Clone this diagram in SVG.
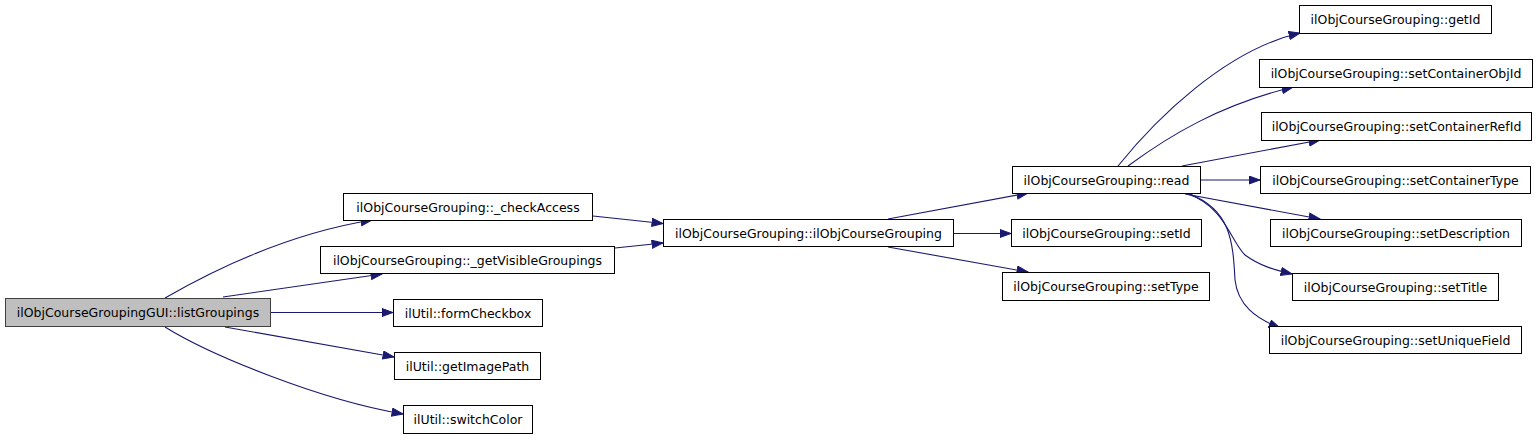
<svg xmlns="http://www.w3.org/2000/svg" width="1539" height="440" viewBox="0 0 1539 440">
<style>
.n rect{fill:#fff;stroke:#000;stroke-width:1}
.n.root rect{fill:#bfbfbf;stroke:#404040}
.n text{font-family:"DejaVu Sans","Liberation Sans",sans-serif;font-size:12.5px;text-anchor:middle;fill:#000}
.e path{fill:none;stroke:#191970;stroke-width:1.1;marker-end:url(#ah)}
</style>
<defs>
<marker id="ah" markerUnits="userSpaceOnUse" markerWidth="13" markerHeight="10" refX="11.5" refY="4.5" orient="auto">
<path d="M0.5,0.5 L11.5,4.5 L0.5,8.5 z" fill="#191970" stroke="#191970" stroke-width="1"/>
</marker>
</defs>
<rect width="1539" height="440" fill="#fff"/>
<g id="edges" class="e">
<path d="M165,298 C205,275 280,235 372,220"/>
<path d="M223,297 L382,274"/>
<path d="M271,312.5 L393,312.5"/>
<path d="M225,327 L394,357"/>
<path d="M165,327 C210,355 320,400 403,414"/>
<path d="M593,216 L663,223.5"/>
<path d="M615,248 L663,243"/>
<path d="M888,219 L1028,193"/>
<path d="M954,233.5 L1011,233.5"/>
<path d="M888,247 L1028,272"/>
<path d="M1118,166 C1155,120 1225,50 1300,33"/>
<path d="M1128,166 C1170,135 1220,105 1293,87"/>
<path d="M1182,166 L1320,140"/>
<path d="M1201,180 L1260,180"/>
<path d="M1185,194 L1320,219"/>
<path d="M1188,194 C1225,207 1230,240 1245,255 C1260,266 1275,270 1292,274"/>
<path d="M1190,194 C1230,210 1233,240 1235,280 C1238,305 1255,318 1280,328"/>
</g>
<g id="node-root" class="n root"><rect x="5.5" y="298.5" width="265" height="28"/><text x="138" y="317">ilObjCourseGroupingGUI::listGroupings</text></g>
<g id="node-checkAccess" class="n"><rect x="343.5" y="193.5" width="249" height="27"/><text x="468" y="211.5">ilObjCourseGrouping::_checkAccess</text></g>
<g id="node-getVisibleGroupings" class="n"><rect x="320.5" y="246.5" width="294" height="27"/><text x="467.5" y="264.5">ilObjCourseGrouping::_getVisibleGroupings</text></g>
<g id="node-formCheckbox" class="n"><rect x="393.5" y="299.5" width="149" height="27"/><text x="468" y="317.5">ilUtil::formCheckbox</text></g>
<g id="node-getImagePath" class="n"><rect x="394.5" y="352.5" width="146" height="27"/><text x="467.5" y="370.5">ilUtil::getImagePath</text></g>
<g id="node-switchColor" class="n"><rect x="403.5" y="405.5" width="129" height="28"/><text x="468" y="424">ilUtil::switchColor</text></g>
<g id="node-ctor" class="n"><rect x="663.5" y="219.5" width="290" height="27"/><text x="808.5" y="237.5">ilObjCourseGrouping::ilObjCourseGrouping</text></g>
<g id="node-read" class="n"><rect x="1012.5" y="166.5" width="188" height="27"/><text x="1106.5" y="184.5">ilObjCourseGrouping::read</text></g>
<g id="node-setId" class="n"><rect x="1011.5" y="219.5" width="190" height="27"/><text x="1106.5" y="237.5">ilObjCourseGrouping::setId</text></g>
<g id="node-setType" class="n"><rect x="1002.5" y="272.5" width="207" height="28"/><text x="1106" y="291">ilObjCourseGrouping::setType</text></g>
<g id="node-getId" class="n"><rect x="1299.5" y="5.5" width="192" height="28"/><text x="1395.5" y="24">ilObjCourseGrouping::getId</text></g>
<g id="node-setContainerObjId" class="n"><rect x="1259.5" y="59.5" width="273" height="28"/><text x="1396" y="78">ilObjCourseGrouping::setContainerObjId</text></g>
<g id="node-setContainerRefId" class="n"><rect x="1261.5" y="112.5" width="270" height="28"/><text x="1396.5" y="131">ilObjCourseGrouping::setContainerRefId</text></g>
<g id="node-setContainerType" class="n"><rect x="1260.5" y="166.5" width="270" height="27"/><text x="1395.5" y="184.5">ilObjCourseGrouping::setContainerType</text></g>
<g id="node-setDescription" class="n"><rect x="1270.5" y="219.5" width="251" height="27"/><text x="1396" y="237.5">ilObjCourseGrouping::setDescription</text></g>
<g id="node-setTitle" class="n"><rect x="1292.5" y="273.5" width="206" height="27"/><text x="1395.5" y="291.5">ilObjCourseGrouping::setTitle</text></g>
<g id="node-setUniqueField" class="n"><rect x="1269.5" y="326.5" width="252" height="27"/><text x="1395.5" y="344.5">ilObjCourseGrouping::setUniqueField</text></g>
</svg>
